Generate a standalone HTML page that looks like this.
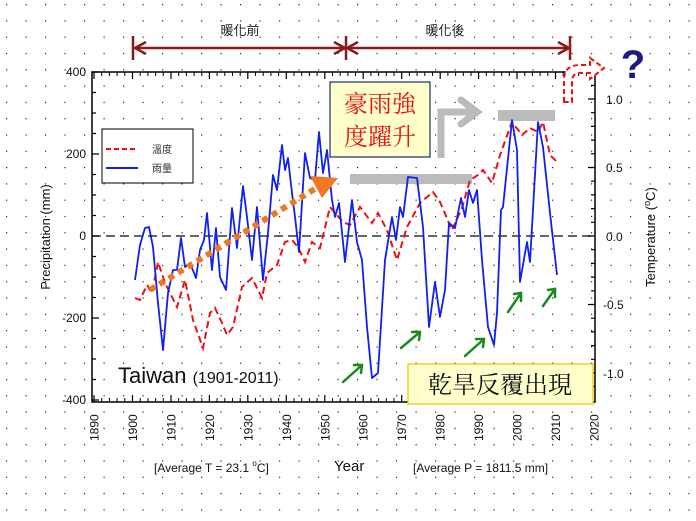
<!DOCTYPE html>
<html><head><meta charset="utf-8"><style>
body{margin:0;background:#fff}
svg{display:block;font-family:"Liberation Sans","Noto Sans CJK TC",sans-serif}
</style></head><body>
<svg width="696" height="521" viewBox="0 0 696 521" xmlns="http://www.w3.org/2000/svg">
<defs>
<pattern id="dots" width="19.5" height="16.3" patternUnits="userSpaceOnUse" x="6" y="4">
<rect x="0" y="0" width="1.2" height="1.2" fill="#222"/>
</pattern>
</defs>
<rect width="696" height="521" fill="url(#dots)"/>

<!-- top period arrows -->
<g stroke="#8b1a1a" stroke-width="2.5" fill="none">
<line x1="133" y1="36" x2="133" y2="60"/>
<line x1="346" y1="36" x2="346" y2="60"/>
<line x1="570" y1="36" x2="570" y2="60"/>
<line x1="135" y1="48" x2="568" y2="48"/>
<polyline points="146,42 135,48 146,54"/>
<polyline points="334,42 345,48 334,54"/>
<polyline points="358,42 347,48 358,54"/>
<polyline points="558,42 569,48 558,54"/>
</g>
<text x="240" y="35" font-size="13" text-anchor="middle" fill="#222">暖化前</text>
<text x="445" y="35" font-size="13" text-anchor="middle" fill="#222">暖化後</text>

<!-- plot frame -->
<rect x="92" y="72" width="503" height="330" fill="none" stroke="#000" stroke-width="1.5"/>
<line x1="92" y1="236" x2="595" y2="236" stroke="#333" stroke-width="1.5" stroke-dasharray="9,5"/>

<g id="ticks" stroke="#000" stroke-width="1.2">
<!-- x ticks -->
<path d="M94,402v-7M132.5,402v-7M171,402v-7M209.4,402v-7M247.8,402v-7M286.3,402v-7M324.8,402v-7M363.2,402v-7M401.7,402v-7M440.2,402v-7M478.6,402v-7M517,402v-7M555.5,402v-7
M94,72v7M132.5,72v7M171,72v7M209.4,72v7M247.8,72v7M286.3,72v7M324.8,72v7M363.2,72v7M401.7,72v7M440.2,72v7M478.6,72v7M517,72v7M555.5,72v7"/>
<path stroke-width="1" d="M101.7,402v-4M109.4,402v-4M117.1,402v-4M124.8,402v-4M140.2,402v-4M147.9,402v-4M155.6,402v-4M163.3,402v-4M178.7,402v-4M186.4,402v-4M194.1,402v-4M201.8,402v-4M217.1,402v-4M224.8,402v-4M232.5,402v-4M240.2,402v-4M255.5,402v-4M263.2,402v-4M270.9,402v-4M278.6,402v-4M294,402v-4M301.7,402v-4M309.4,402v-4M317.1,402v-4M332.5,402v-4M340.2,402v-4M347.9,402v-4M355.5,402v-4M370.9,402v-4M378.6,402v-4M386.3,402v-4M394,402v-4M409.4,402v-4M417.1,402v-4M424.8,402v-4M432.5,402v-4M447.9,402v-4M455.6,402v-4M463.3,402v-4M471,402v-4M486.3,402v-4M494,402v-4M501.7,402v-4M509.3,402v-4M524.7,402v-4M532.4,402v-4M540.1,402v-4M547.8,402v-4M563.2,402v-4M570.9,402v-4M578.6,402v-4M586.3,402v-4
M101.7,72v4M109.4,72v4M117.1,72v4M124.8,72v4M140.2,72v4M147.9,72v4M155.6,72v4M163.3,72v4M178.7,72v4M186.4,72v4M194.1,72v4M201.8,72v4M217.1,72v4M224.8,72v4M232.5,72v4M240.2,72v4M255.5,72v4M263.2,72v4M270.9,72v4M278.6,72v4M294,72v4M301.7,72v4M309.4,72v4M317.1,72v4M332.5,72v4M340.2,72v4M347.9,72v4M355.5,72v4M370.9,72v4M378.6,72v4M386.3,72v4M394,72v4M409.4,72v4M417.1,72v4M424.8,72v4M432.5,72v4M447.9,72v4M455.6,72v4M463.3,72v4M471,72v4M486.3,72v4M494,72v4M501.7,72v4M509.3,72v4M524.7,72v4M532.4,72v4M540.1,72v4M547.8,72v4M563.2,72v4M570.9,72v4M578.6,72v4M586.3,72v4"/>
<!-- left y ticks -->
<path d="M92,72h7M92,154h7M92,236h7M92,318h7M92,400h7M92,92.5h4M92,113h4M92,133.5h4M92,174.5h4M92,195h4M92,215.5h4M92,256.5h4M92,277h4M92,297.5h4M92,338.5h4M92,359h4M92,379.5h4"/>
<!-- right y ticks -->
<path d="M595,99h-7M595,167.5h-7M595,236h-7M595,304.5h-7M595,373h-7M595,85.3h-4M595,112.7h-4M595,126.4h-4M595,140.1h-4M595,153.8h-4M595,181.2h-4M595,194.9h-4M595,208.6h-4M595,222.3h-4M595,249.7h-4M595,263.4h-4M595,277.1h-4M595,290.8h-4M595,318.2h-4M595,331.9h-4M595,345.6h-4M595,359.3h-4M595,386.7h-4"/>
</g>

<g font-size="12" fill="#111" text-anchor="end">
<text x="86" y="76">400</text><text x="86" y="158">200</text><text x="86" y="240">0</text><text x="86" y="322">-200</text><text x="86" y="404">-400</text>
</g>
<g font-size="12" fill="#111">
<text x="606" y="104">1.0</text><text x="606" y="172">0.5</text><text x="606" y="241">0.0</text><text x="603" y="309">-0.5</text><text x="603" y="378">-1.0</text>
</g>
<text transform="translate(50,237) rotate(-90)" font-size="13" text-anchor="middle" fill="#111">Precipitation (mm)</text>
<text transform="translate(655,237) rotate(-90)" font-size="13" text-anchor="middle" fill="#111">Temperature (<tspan font-size="9" dy="-5">o</tspan><tspan dy="5">C)</tspan></text>

<g font-size="12" fill="#111">
<text transform="translate(98.5,441) rotate(-90)">1890</text>
<text transform="translate(137,441) rotate(-90)">1900</text>
<text transform="translate(175.5,441) rotate(-90)">1910</text>
<text transform="translate(214,441) rotate(-90)">1920</text>
<text transform="translate(252.3,441) rotate(-90)">1930</text>
<text transform="translate(290.8,441) rotate(-90)">1940</text>
<text transform="translate(329.3,441) rotate(-90)">1950</text>
<text transform="translate(367.7,441) rotate(-90)">1960</text>
<text transform="translate(406.2,441) rotate(-90)">1970</text>
<text transform="translate(444.7,441) rotate(-90)">1980</text>
<text transform="translate(483.1,441) rotate(-90)">1990</text>
<text transform="translate(521.5,441) rotate(-90)">2000</text>
<text transform="translate(560,441) rotate(-90)">2010</text>
<text transform="translate(598.5,441) rotate(-90)">2020</text>
</g>
<text x="154" y="472" font-size="12" fill="#111">[Average T = 23.1 <tspan font-size="8" dy="-6">o</tspan><tspan dy="6">C]</tspan></text>
<text x="334" y="471" font-size="15" fill="#111">Year</text>
<text x="413" y="472" font-size="12" fill="#111">[Average P = 1811.5 mm]</text>

<!-- gray annotations -->
<rect x="350" y="174" width="122" height="10" fill="#bbb"/>
<rect x="498" y="110" width="57" height="11" fill="#bbb"/>
<polyline points="441,158 441,112 475,112" fill="none" stroke="#bbb" stroke-width="7"/>
<polyline points="461,100 477,112 461,124" fill="none" stroke="#bbb" stroke-width="7" stroke-linecap="round"/>

<!-- red dashed temperature -->
<polyline fill="none" stroke="#ee1111" stroke-width="2" stroke-dasharray="7,4" points="135,298 140,300 147,285 152,293 158,262 165,283 170,293 177,307 185,280 193,320 203,348 210,313 215,308 222,323 227,335 233,327 242,287 252,278 262,298 267,273 277,265 285,242 292,240 298,247 305,262 312,242 320,248 330,207 343,222 350,225 360,207 372,223 378,213 387,230 397,260 407,227 420,203 433,192 440,202 452,230 462,208 470,180 478,175 483,170 492,183 500,155 512,122 522,135 530,128 538,132 543,122 550,155 557,162"/>

<!-- blue precipitation -->
<polyline fill="none" stroke="#1020ee" stroke-width="1.8" stroke-linejoin="round" points="135,280 140,245 145,228 149,227 153,247 158,303 163,350 168,293 173,270 177,270 181,238 185,267 190,263 196,278 200,250 204,240 207,213 212,270 216,228 220,277 226,290 232,208 237,248 243,186 247,217 252,260 257,207 263,280 268,233 273,175 277,190 282,145 285,170 288,158 292,193 295,217 299,252 305,153 310,178 315,180 319,132 323,173 327,150 332,200 335,217 339,203 345,262 352,200 357,242 362,260 367,327 372,378 378,373 385,260 392,217 396,240 400,207 403,217 408,177 417,178 423,227 429,327 435,282 440,317 445,290 449,223 455,228 461,198 465,217 469,190 473,203 477,190 482,260 488,327 494,345 497,313 501,210 503,207 512,120 517,150 520,282 527,242 530,262 538,122 543,147 550,213 557,275"/>

<!-- orange dotted arrow -->
<line x1="150" y1="290" x2="318" y2="187" stroke="#f07820" stroke-width="6" stroke-dasharray="6,5"/>
<polygon points="310,176 338,178 322,198" fill="#f07820"/>

<!-- green arrows -->
<g stroke="#1a8a1a" stroke-width="2.5" fill="none" stroke-linecap="round">
<path d="M343,382 L362,365 M354,365 L362,365 L361,373"/>
<path d="M401,348 L420,332 M412,332 L420,332 L419,340"/>
<path d="M465,356 L484,339 M476,339 L484,339 L483,347"/>
<path d="M508,312 L521,293 M514,294 L521,293 L521,301"/>
<path d="M543,306 L555,289 M548,290 L555,289 L555,297"/>
</g>

<!-- legend -->
<rect x="102" y="129" width="91" height="54" fill="#fff" stroke="#000" stroke-width="1"/>
<line x1="106" y1="149" x2="138" y2="149" stroke="#ee1111" stroke-width="2" stroke-dasharray="5,3"/>
<line x1="106" y1="168" x2="138" y2="168" stroke="#1020ee" stroke-width="2"/>
<text x="152" y="153" font-size="10" fill="#333">溫度</text>
<text x="152" y="172" font-size="10" fill="#333">雨量</text>

<text x="118" y="383" font-size="22" fill="#111">Taiwan <tspan font-size="16">(1901-2011)</tspan></text>

<!-- callouts -->
<rect x="330" y="82" width="100" height="75" fill="#ffffcc" stroke="#1a2a6a" stroke-width="1.2"/>
<text x="380" y="112" font-size="24" fill="#ee1111" text-anchor="middle" font-family="'Noto Serif CJK SC',serif">豪雨強</text>
<text x="380" y="145" font-size="24" fill="#ee1111" text-anchor="middle" font-family="'Noto Serif CJK SC',serif">度躍升</text>
<rect x="408" y="364" width="185" height="40" fill="#ffffcc" stroke="#f0c000" stroke-width="1.2"/>
<text x="500" y="393" font-size="24" fill="#111" text-anchor="middle" font-family="'Noto Serif CJK SC',serif">乾旱反覆出現</text>

<!-- red dashed curved arrow & question mark -->
<path d="M564,102 L564,80 Q564,65 580,65 L590,65 L590,58 L604,68 L590,79 L590,73 L580,73 Q572,73 572,82 L572,102 Z" fill="#fff" stroke="#ee1111" stroke-width="2" stroke-dasharray="5,3"/>
<text x="633" y="78" font-size="40" font-weight="bold" fill="#1a1a80" text-anchor="middle">?</text>
</svg>
</body></html>
